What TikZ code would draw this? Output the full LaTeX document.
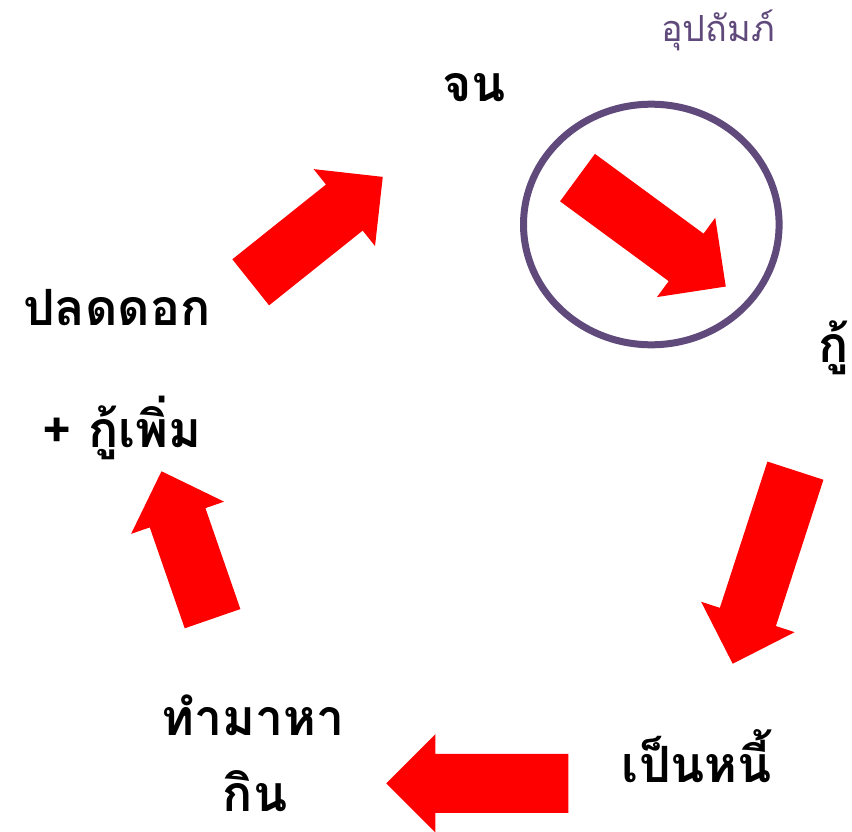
\documentclass[tikz,border=0pt]{standalone}
\usepackage{fontspec}
\usepackage{tikz}
\usetikzlibrary{shapes.arrows,shapes.geometric}
\newfontfamily\thaifont[Script=Thai]{Loma}
\definecolor{loopred}{HTML}{FF0000}
\definecolor{patronpurple}{HTML}{604A7B}

\begin{document}
\begin{tikzpicture}[x=1pt,y=-1pt,
  bigarrow/.style={single arrow,fill=loopred,inner xsep=0pt,inner ysep=29.25pt,anchor=tip,
    minimum width=98pt,single arrow head extend=19.75pt,single arrow tip angle=90},
  word/.style={font=\thaifont\bfseries\fontsize{50}{58}\selectfont,anchor=base,inner sep=0pt},
  patrontext/.style={font=\thaifont\fontsize{36}{42}\selectfont,text=patronpurple,anchor=base,inner sep=0pt}]
\useasboundingbox (0,0) rectangle (852,832);

% words of the cycle
\node[word] (poor) at (474,102) {จน};
\node[word] (borrow) at (834,362) {กู้};
\node[word] (debt) at (697,782) {เป็นหนี้};
\node[word] (work) at (253,735) {ทำมาหา};
\node[word] (eat) at (255,811) {กิน};
\node[word] (free) at (117,325) {ปลดดอก};
\node[word] (more) at (122,447) {+ กู้เพิ่ม};

% patronage ring
\node[ellipse,draw=patronpurple,line width=7pt,minimum width=255.6pt,
  minimum height=240.6pt,inner sep=0pt] (ring) at (651.3,224.5) {};
\node[patrontext] (patron) at (718,42) {อุปถัมภ์};

% arrows round the cycle (placed by their tips)
\node[bigarrow,minimum height=184pt,rotate=-36.3] (a1) at (726,286.7) {};
\node[bigarrow,minimum height=203pt,rotate=-108] (a2) at (732.6,664) {};
\node[bigarrow,minimum height=182pt,rotate=180] (a3) at (386,783.3) {};
\node[bigarrow,minimum height=156pt,rotate=109.1] (a4) at (161.4,471) {};
\node[bigarrow,minimum height=169pt,rotate=38.6] (a5) at (383,176.7) {};
\end{tikzpicture}
\end{document}
